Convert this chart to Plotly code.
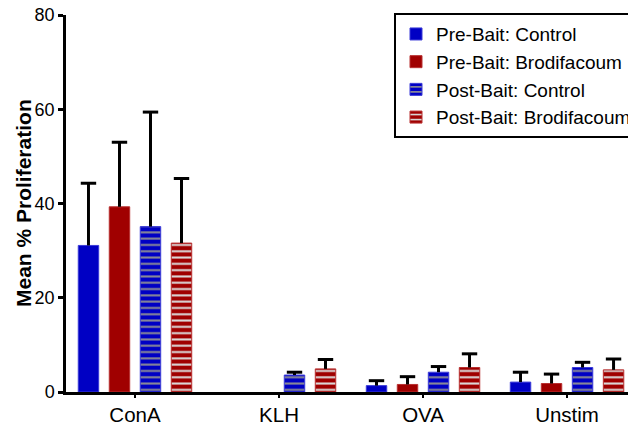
import plotly.graph_objects as go

groups = ["ConA", "KLH", "OVA", "Unstim"]
series_names = ["Pre-Bait: Control", "Pre-Bait: Brodifacoum",
                "Post-Bait: Control", "Post-Bait: Brodifacoum"]
pre_ctrl = [31.1, None, 1.35, 2.1]
pre_ctrl_sd = [13.2, None, 1.05, 2.1]
pre_brod = [39.3, None, 1.6, 1.8]
pre_brod_sd = [13.7, None, 1.65, 2.0]
post_ctrl = [35.1, 3.6, 4.2, 5.2]
post_ctrl_sd = [24.3, 0.6, 1.2, 1.1]
post_brod = [31.6, 4.9, 5.2, 4.7]
post_brod_sd = [13.7, 2.0, 2.9, 2.3]

means = [pre_ctrl, pre_brod, post_ctrl, post_brod]
sds = [pre_ctrl_sd, pre_brod_sd, post_ctrl_sd, post_brod_sd]
colors = ["#0000c4", "#a00000", "#0000c4", "#a00000"]
edge = ["#3a3ad8", "#b83030", "#3a3ad8", "#b83030"]
pat_fg = [None, None, "#8a8a96", "#dcdcdc"]

slot = 0.2153
bw = 0.142
xpos = list(range(len(groups)))

fig = go.Figure()
for k in range(4):
    off = (k - 1.5) * slot
    marker = dict(color=colors[k], line=dict(color=edge[k], width=1))
    if pat_fg[k]:
        marker["pattern"] = dict(shape="-", fgcolor=pat_fg[k], bgcolor=colors[k],
                                 size=6.3, solidity=0.32, fillmode="replace")
    fig.add_trace(go.Bar(
        x=xpos, y=means[k],
        width=bw, offset=off - bw / 2, marker=marker, name=series_names[k],
        showlegend=True))

for k in range(4):
    off = (k - 1.5) * slot
    xs, ys, ms = [], [], []
    for i in range(len(groups)):
        if means[k][i] is None:
            continue
        xs.append(i + off)
        ys.append(means[k][i] + sds[k][i])
        ms.append(sds[k][i])
    fig.add_trace(go.Scatter(
        x=xs, y=ys, mode="markers", showlegend=False, hoverinfo="skip",
        marker=dict(symbol="line-ew", size=11, color="black",
                    line=dict(color="black", width=3)),
        error_y=dict(type="data", symmetric=False, array=[0] * len(ms),
                     arrayminus=ms, width=0, thickness=3, color="black")))

fig.update_layout(
    width=628, height=415,
    margin=dict(l=58, r=3, t=7, b=31, autoexpand=False),
    paper_bgcolor="white", plot_bgcolor="white",
    barmode="overlay",
    font=dict(family="Liberation Sans, Arial, sans-serif", color="black", size=18),
    legend=dict(x=0.5785, y=1.005, xanchor="left", yanchor="top",
                bordercolor="black", borderwidth=2, bgcolor="white",
                font=dict(size=19), tracegroupgap=0),
    xaxis=dict(range=[-0.479, 3.458], tickvals=xpos, ticktext=groups,
               showline=True, linecolor="black", linewidth=2.5,
               ticks="outside", ticklen=3, tickwidth=2, tickcolor="black",
               showgrid=False, zeroline=False, tickfont=dict(size=20.5),
               ticklabeloverflow="allow"),
    yaxis=dict(range=[0, 80], tickvals=[0, 20, 40, 60, 80],
               showline=True, linecolor="black", linewidth=2.5,
               ticks="outside", ticklen=5, tickwidth=2.5, tickcolor="black",
               showgrid=False, zeroline=False, tickfont=dict(size=18),
               ticklabeloverflow="allow"),
    annotations=[dict(text="<b>Mean % Proliferation</b>", xref="paper", yref="paper",
                      x=0, y=0.5, xshift=-42.5, textangle=-90, showarrow=False,
                      font=dict(size=21), xanchor="center", yanchor="middle")],
)

fig.write_html("out.html")
